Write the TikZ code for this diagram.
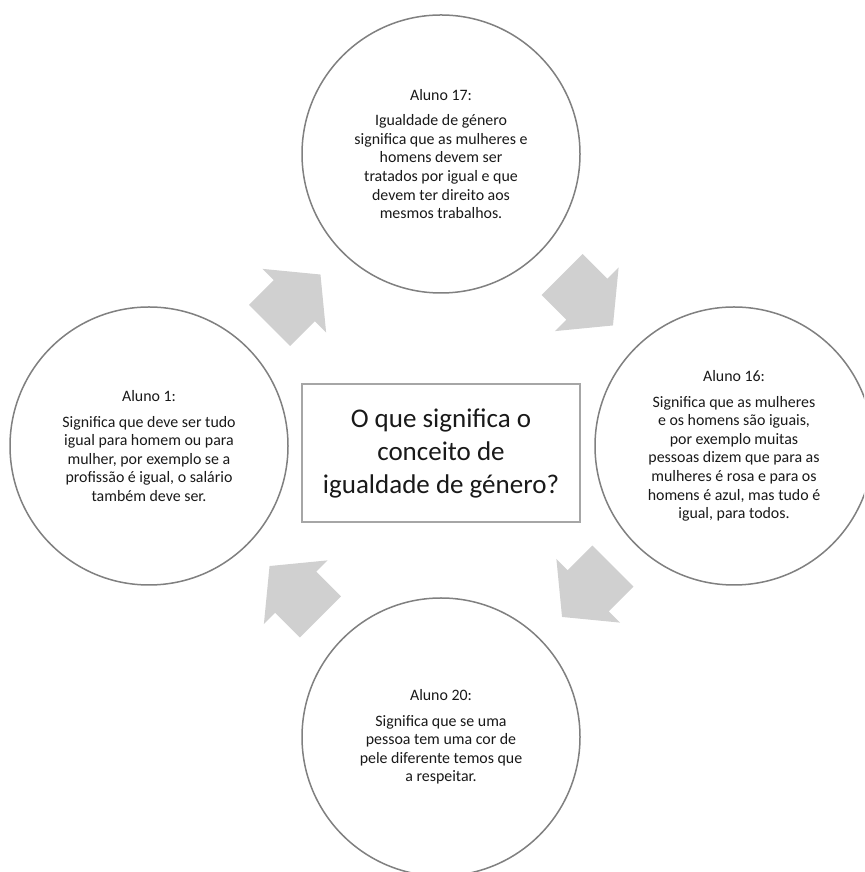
\documentclass[tikz,border=0pt]{standalone}
\usepackage{fontspec}
\setmainfont{Carlito}
\usetikzlibrary{calc}
\definecolor{circline}{RGB}{128,128,128}
\definecolor{boxline}{RGB}{166,166,166}
\definecolor{arrowfill}{RGB}{208,208,208}
\definecolor{txt}{RGB}{25,25,25}
\begin{document}
\begin{tikzpicture}[x=1pt,y=1pt,
  bubble/.style={circle, draw=circline, line width=1.5pt, fill=white, minimum size=278pt, inner sep=0pt, align=center, font=\fontsize{15.9}{18.6}\selectfont, text=txt},
  qbox/.style={rectangle, draw=boxline, line width=2pt, fill=white, minimum width=278pt, minimum height=138pt, align=center, font=\fontsize{27}{33}\selectfont, text=txt},
  blockarrow/.style={fill=arrowfill, draw=none}]
\useasboundingbox (0,0) rectangle (864,872);
\clip (0,0) rectangle (864,872);
\fill[white] (0,0) rectangle (864,872);
% circles
\node[bubble] (top) at (441,718) {Aluno 17:\\[7pt]
Igualdade de género\\
significa que as mulheres e\\
homens devem ser\\
tratados por igual e que\\
devem ter direito aos\\
mesmos trabalhos.};
\node[bubble] (right) at (734,426) {Aluno 16:\\[7pt]
Significa que as mulheres\\
e os homens são iguais,\\
por exemplo muitas\\
pessoas dizem que para as\\
mulheres é rosa e para os\\
homens é azul, mas tudo é\\
igual, para todos.};
\node[bubble] (left) at (149,426) {Aluno 1:\\[7pt]
Significa que deve ser tudo\\
igual para homem ou para\\
mulher, por exemplo se a\\
profissão é igual, o salário\\
também deve ser.};
\node[bubble] (bottom) at (441,135) {Aluno 20:\\[7pt]
Significa que se uma\\
pessoa tem uma cor de\\
pele diferente temos que\\
a respeitar.};
% centre question
\node[qbox] (q) at (441,419) {O que significa o\\ conceito de\\ igualdade de género?};
% block arrows between circles
\coordinate (a1) at ($(left)!0.5!(top)$);
\coordinate (a2) at ($(top)!0.5!(right)$);
\coordinate (a3) at ($(right)!0.5!(bottom)$);
\coordinate (a4) at ($(bottom)!0.5!(left)$);
\foreach \c/\ang in {a1/45, a2/-45, a3/-135, a4/135}{
  \fill[blockarrow, shift={(\c)}, rotate=\ang]
    (-36,-29) -- (-1,-29) -- (-1,-45) -- (36,0) -- (-1,45) -- (-1,29) -- (-36,29) -- cycle;
}
\end{tikzpicture}
\end{document}
